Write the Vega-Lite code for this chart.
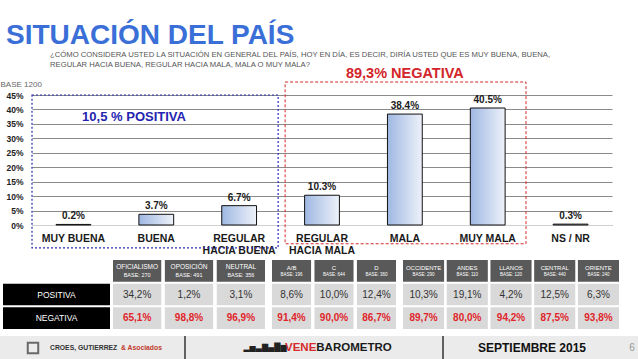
{
  "$schema": "https://vega.github.io/schema/vega-lite/v6.json",
  "padding": {"left": 0, "top": 22, "right": 0, "bottom": 0},
  "background": "white",
  "config": {"view": {"stroke": null}, "font": "Liberation Sans", "text": {"font": "Liberation Sans"}},
  "title": {"text": "SITUACIÓN DEL PAÍS", "anchor": "start", "font": "Liberation Sans", "fontSize": 28, "fontWeight": "bold", "color": "#3a6fd8", "dx": 6, "offset": 0.5},
  "datasets": {
    "encuesta": [
      {"categoria": "MUY BUENA", "pct": 0.002},
      {"categoria": "BUENA", "pct": 0.037},
      {"categoria": "REGULAR HACIA BUENA", "pct": 0.067},
      {"categoria": "REGULAR HACIA MALA", "pct": 0.103},
      {"categoria": "MALA", "pct": 0.384},
      {"categoria": "MUY MALA", "pct": 0.405},
      {"categoria": "NS / NR", "pct": 0.003}
    ],
    "tabla": [
      {"grupo": "politica", "columna": "OFICIALISMO", "base": "BASE: 270", "POSITIVA": 0.342, "NEGATIVA": 0.651},
      {"grupo": "politica", "columna": "OPOSICIÓN", "base": "BASE: 491", "POSITIVA": 0.012, "NEGATIVA": 0.988},
      {"grupo": "politica", "columna": "NEUTRAL", "base": "BASE: 356", "POSITIVA": 0.031, "NEGATIVA": 0.969},
      {"grupo": "estrato", "columna": "A/B", "base": "BASE: 196", "POSITIVA": 0.086, "NEGATIVA": 0.914},
      {"grupo": "estrato", "columna": "C", "base": "BASE: 644", "POSITIVA": 0.100, "NEGATIVA": 0.900},
      {"grupo": "estrato", "columna": "D", "base": "BASE: 360", "POSITIVA": 0.124, "NEGATIVA": 0.867},
      {"grupo": "region", "columna": "OCCIDENTE", "base": "BASE: 290", "POSITIVA": 0.103, "NEGATIVA": 0.897},
      {"grupo": "region", "columna": "ANDES", "base": "BASE: 110", "POSITIVA": 0.191, "NEGATIVA": 0.800},
      {"grupo": "region", "columna": "LLANOS", "base": "BASE: 120", "POSITIVA": 0.042, "NEGATIVA": 0.942},
      {"grupo": "region", "columna": "CENTRAL", "base": "BASE: 440", "POSITIVA": 0.125, "NEGATIVA": 0.875},
      {"grupo": "region", "columna": "ORIENTE", "base": "BASE: 240", "POSITIVA": 0.063, "NEGATIVA": 0.938}
    ]
  },
  "spacing": 4,
  "vconcat": [
    {
      "width": 580,
      "height": 130,
      "title": {
        "text": ["¿CÓMO CONSIDERA USTED LA SITUACIÓN EN GENERAL DEL PAÍS, HOY EN DÍA, ES DECIR, DIRÍA USTED QUE ES MUY BUENA, BUENA,", "REGULAR HACIA BUENA, REGULAR HACIA MALA, MALA O MUY MALA?"],
        "anchor": "start", "frame": "group", "dx": 18, "fontSize": 7.7, "fontWeight": "normal", "color": "#555555", "lineHeight": 10.5, "offset": -2.5
      },
      "data": {"name": "encuesta"},
      "layer": [
        {
          "mark": {"type": "bar", "color": {"gradient": "linear", "x1": 0, "x2": 1, "y1": 0, "y2": 0, "stops": [{"offset": 0, "color": "#9fb8e2"}, {"offset": 1, "color": "#eef2fa"}]}, "stroke": "#111111", "strokeWidth": 1},
          "encoding": {
            "x": {
              "field": "categoria", "type": "nominal", "sort": null,
              "scale": {"domain": ["MUY BUENA", "BUENA", "REGULAR HACIA BUENA", "REGULAR HACIA MALA", "MALA", "MUY MALA", "NS / NR"], "paddingInner": 0.58, "paddingOuter": 0.29},
              "axis": {"title": null, "labelAngle": 0, "labelFontWeight": "bold", "labelFontSize": 10.5, "labelColor": "#1a1a1a", "labelPadding": 8, "ticks": false, "domainColor": "#d0d0d0", "labelOverlap": false, "labelLimit": 0, "labelLineHeight": 12,
                "labelExpr": "indexof(datum.label, 'HACIA') > 0 ? ['REGULAR', replace(datum.label, 'REGULAR ', '')] : datum.label"}
            },
            "y": {
              "field": "pct", "type": "quantitative",
              "scale": {"domain": [0, 0.45], "nice": false},
              "axis": {"format": ".0%", "values": [0, 0.05, 0.1, 0.15, 0.2, 0.25, 0.3, 0.35, 0.4, 0.45], "tickCount": 10, "title": "BASE 1200", "titleAngle": 0, "titleAlign": "left", "titleBaseline": "alphabetic", "titleX": -32, "titleY": -9, "titleFontSize": 8, "titleFontWeight": "normal", "titleColor": "#666666", "labelFontWeight": "bold", "labelFontSize": 8.5, "labelColor": "#222222", "labelPadding": 9, "labelOverlap": false, "ticks": false, "domain": false, "grid": true, "gridColor": "#8a8a8a"}
            }
          }
        },
        {
          "mark": {"type": "text", "baseline": "bottom", "dy": -3, "fontSize": 10, "fontWeight": "bold", "color": "#1a1a1a"},
          "encoding": {
            "x": {"field": "categoria", "type": "nominal", "sort": null},
            "y": {"field": "pct", "type": "quantitative", "axis": {"format": ".0%", "values": [0, 0.05, 0.1, 0.15, 0.2, 0.25, 0.3, 0.35, 0.4, 0.45], "tickCount": 10, "title": "BASE 1200", "titleAngle": 0, "titleAlign": "left", "titleBaseline": "alphabetic", "titleX": -32, "titleY": -9, "titleFontSize": 8, "titleFontWeight": "normal", "titleColor": "#666666", "labelFontWeight": "bold", "labelFontSize": 8.5, "labelColor": "#222222", "labelPadding": 9, "labelOverlap": false, "ticks": false, "domain": false, "grid": true, "gridColor": "#8a8a8a"}},
            "text": {"field": "pct", "type": "quantitative", "format": ".1%"}
          }
        },
        {
          "data": {"values": [{}]},
          "mark": {"type": "rect", "fill": "#ffffff", "fillOpacity": 0, "stroke": "#2b2bb5", "strokeWidth": 1.2, "strokeDash": [2, 2]},
          "encoding": {
            "x": {"datum": "MUY BUENA", "type": "nominal", "bandPosition": -0.69},
            "x2": {"datum": "REGULAR HACIA BUENA", "bandPosition": 1.62},
            "y": {"datum": 0.45, "type": "quantitative"},
            "y2": {"datum": -0.079}
          }
        },
        {
          "data": {"values": [{}]},
          "mark": {"type": "rect", "fill": "#ffffff", "fillOpacity": 0, "stroke": "#d42a2a", "strokeWidth": 1, "strokeDash": [3, 2]},
          "encoding": {
            "x": {"datum": "REGULAR HACIA MALA", "type": "nominal", "bandPosition": -0.56},
            "x2": {"datum": "MUY MALA", "bandPosition": 1.6},
            "y": {"datum": 0.495, "type": "quantitative"},
            "y2": {"datum": -0.065}
          }
        },
        {
          "data": {"values": [{}]},
          "mark": {"type": "text", "text": "10,5 % POSITIVA", "fontSize": 13, "fontWeight": "bold", "color": "#2424b0", "baseline": "alphabetic"},
          "encoding": {
            "x": {"datum": "BUENA", "type": "nominal", "bandPosition": -0.14},
            "y": {"datum": 0.361, "type": "quantitative"}
          }
        },
        {
          "data": {"values": [{}]},
          "mark": {"type": "text", "text": "89,3% NEGATIVA", "fontSize": 14.5, "fontWeight": "bold", "color": "#d3252a", "baseline": "alphabetic"},
          "encoding": {
            "x": {"datum": "MALA", "type": "nominal", "bandPosition": 0.5},
            "y": {"datum": 0.508, "type": "quantitative"}
          }
        }
      ]
    },
    {
      "spacing": 6,
      "vconcat": [
        {
          "spacing": 7,
          "hconcat": [
            {
              "spacing": 3,
              "hconcat": [
                {
                  "width": 78, "height": 69,
                  "data": {"values": [{"fila": "POSITIVA"}, {"fila": "NEGATIVA"}]},
                  "encoding": {"y": {"field": "fila", "type": "nominal", "scale": {"domain": ["cabecera", "POSITIVA", "NEGATIVA"], "paddingInner": 0.08, "paddingOuter": 0}, "axis": null}},
                  "layer": [
                    {"mark": {"type": "rect", "color": "#000000", "xOffset": -29},
                     "encoding": {"x": {"datum": "etiqueta", "type": "nominal", "bandPosition": 0, "scale": {"domain": ["etiqueta"], "paddingInner": 0, "paddingOuter": 0}, "axis": null}, "x2": {"datum": "etiqueta", "bandPosition": 1}}},
                    {"mark": {"type": "text", "color": "#ffffff", "fontSize": 8.5, "dx": -14.5},
                     "encoding": {"x": {"datum": "etiqueta", "type": "nominal"}, "text": {"field": "fila"}}}
                  ]
                },
                {
                  "width": 152, "height": 69,
                  "data": {"name": "tabla"},
                  "transform": [{"filter": "datum.grupo === 'politica'"}],
                  "encoding": {"x": {"field": "columna", "type": "nominal", "sort": null, "axis": null, "scale": {"paddingInner": 0.07, "paddingOuter": 0}}},
                  "layer": [
                    {"mark": {"type": "rect", "color": "#595959"}, "encoding": {"y": {"datum": "cabecera", "type": "nominal", "scale": {"domain": ["cabecera", "POSITIVA", "NEGATIVA"], "paddingInner": 0.08, "paddingOuter": 0}, "axis": null}}},
                    {"mark": {"type": "text", "color": "#ffffff", "fontSize": 6.5, "dy": -3.5}, "encoding": {"y": {"datum": "cabecera", "type": "nominal"}, "text": {"field": "columna"}}},
                    {"mark": {"type": "text", "color": "#ffffff", "fontSize": 5.5, "dy": 4.5}, "encoding": {"y": {"datum": "cabecera", "type": "nominal"}, "text": {"field": "base"}}},
                    {"transform": [{"fold": ["POSITIVA", "NEGATIVA"], "as": ["fila", "valor"]}], "mark": {"type": "rect", "color": "#d9d9d9"}, "encoding": {"y": {"field": "fila", "type": "nominal"}}},
                    {"transform": [{"fold": ["POSITIVA", "NEGATIVA"], "as": ["fila", "valor"]}, {"filter": "datum.fila === 'POSITIVA'"}], "mark": {"type": "text", "fontSize": 10, "color": "#333333", "text": {"expr": "replace(format(datum.valor, '.1%'), '.', ',')"}}, "encoding": {"y": {"field": "fila", "type": "nominal"}}},
                    {"transform": [{"fold": ["POSITIVA", "NEGATIVA"], "as": ["fila", "valor"]}, {"filter": "datum.fila === 'NEGATIVA'"}], "mark": {"type": "text", "fontSize": 10, "fontWeight": "bold", "color": "#e0262b", "text": {"expr": "replace(format(datum.valor, '.1%'), '.', ',')"}}, "encoding": {"y": {"field": "fila", "type": "nominal"}}}
                  ]
                }
              ]
            },
            {
              "width": 124, "height": 69,
              "data": {"name": "tabla"},
              "transform": [{"filter": "datum.grupo === 'estrato'"}],
              "encoding": {"x": {"field": "columna", "type": "nominal", "sort": null, "axis": null, "scale": {"paddingInner": 0.08, "paddingOuter": 0}}},
              "layer": [
                {"mark": {"type": "rect", "color": "#595959"}, "encoding": {"y": {"datum": "cabecera", "type": "nominal", "scale": {"domain": ["cabecera", "POSITIVA", "NEGATIVA"], "paddingInner": 0.08, "paddingOuter": 0}, "axis": null}}},
                {"mark": {"type": "text", "color": "#ffffff", "fontSize": 6, "dy": -3}, "encoding": {"y": {"datum": "cabecera", "type": "nominal"}, "text": {"field": "columna"}}},
                {"mark": {"type": "text", "color": "#ffffff", "fontSize": 4.5, "dy": 4}, "encoding": {"y": {"datum": "cabecera", "type": "nominal"}, "text": {"field": "base"}}},
                {"transform": [{"fold": ["POSITIVA", "NEGATIVA"], "as": ["fila", "valor"]}], "mark": {"type": "rect", "color": "#d9d9d9"}, "encoding": {"y": {"field": "fila", "type": "nominal"}}},
                {"transform": [{"fold": ["POSITIVA", "NEGATIVA"], "as": ["fila", "valor"]}, {"filter": "datum.fila === 'POSITIVA'"}], "mark": {"type": "text", "fontSize": 10, "color": "#333333", "text": {"expr": "replace(format(datum.valor, '.1%'), '.', ',')"}}, "encoding": {"y": {"field": "fila", "type": "nominal"}}},
                {"transform": [{"fold": ["POSITIVA", "NEGATIVA"], "as": ["fila", "valor"]}, {"filter": "datum.fila === 'NEGATIVA'"}], "mark": {"type": "text", "fontSize": 10, "fontWeight": "bold", "color": "#e0262b", "text": {"expr": "replace(format(datum.valor, '.1%'), '.', ',')"}}, "encoding": {"y": {"field": "fila", "type": "nominal"}}}
              ]
            },
            {
              "width": 216, "height": 69,
              "data": {"name": "tabla"},
              "transform": [{"filter": "datum.grupo === 'region'"}],
              "encoding": {"x": {"field": "columna", "type": "nominal", "sort": null, "axis": null, "scale": {"paddingInner": 0.06, "paddingOuter": 0}}},
              "layer": [
                {"mark": {"type": "rect", "color": "#595959"}, "encoding": {"y": {"datum": "cabecera", "type": "nominal", "scale": {"domain": ["cabecera", "POSITIVA", "NEGATIVA"], "paddingInner": 0.08, "paddingOuter": 0}, "axis": null}}},
                {"mark": {"type": "text", "color": "#ffffff", "fontSize": 6, "dy": -3}, "encoding": {"y": {"datum": "cabecera", "type": "nominal"}, "text": {"field": "columna"}}},
                {"mark": {"type": "text", "color": "#ffffff", "fontSize": 4.5, "dy": 4}, "encoding": {"y": {"datum": "cabecera", "type": "nominal"}, "text": {"field": "base"}}},
                {"transform": [{"fold": ["POSITIVA", "NEGATIVA"], "as": ["fila", "valor"]}], "mark": {"type": "rect", "color": "#d9d9d9"}, "encoding": {"y": {"field": "fila", "type": "nominal"}}},
                {"transform": [{"fold": ["POSITIVA", "NEGATIVA"], "as": ["fila", "valor"]}, {"filter": "datum.fila === 'POSITIVA'"}], "mark": {"type": "text", "fontSize": 10, "color": "#333333", "text": {"expr": "replace(format(datum.valor, '.1%'), '.', ',')"}}, "encoding": {"y": {"field": "fila", "type": "nominal"}}},
                {"transform": [{"fold": ["POSITIVA", "NEGATIVA"], "as": ["fila", "valor"]}, {"filter": "datum.fila === 'NEGATIVA'"}], "mark": {"type": "text", "fontSize": 10, "fontWeight": "bold", "color": "#e0262b", "text": {"expr": "replace(format(datum.valor, '.1%'), '.', ',')"}}, "encoding": {"y": {"field": "fila", "type": "nominal"}}}
              ]
            }
          ]
        },
        {
          "width": 606, "height": 24,
          "data": {"values": [{}]},
          "layer": [
            {"mark": {"type": "rect", "color": "#ebebeb", "xOffset": -82.5, "x2Offset": 50.5},
             "encoding": {"x": {"datum": "CROES", "type": "nominal", "scale": {"type": "point", "domain": ["CROES", "sep1", "VENE", "sep2", "fecha", "pag"], "padding": 0.5}, "axis": null}, "x2": {"datum": "pag"}}},
            {"mark": {"type": "point", "shape": "square", "filled": false, "size": 110, "stroke": "#333333", "strokeWidth": 2, "xOffset": -49.5},
             "encoding": {"x": {"datum": "CROES", "type": "nominal"}}},
            {"mark": {"type": "text", "text": "CROES, GUTIERREZ", "align": "left", "dx": -32.5, "fontSize": 6.8, "fontWeight": "bold", "color": "#333333"},
             "encoding": {"x": {"datum": "CROES", "type": "nominal"}}},
            {"mark": {"type": "text", "text": "& Asociados", "align": "left", "dx": 38.5, "fontSize": 6.8, "fontWeight": "bold", "color": "#c0392b"},
             "encoding": {"x": {"datum": "CROES", "type": "nominal"}}},
            {"mark": {"type": "rule", "stroke": "#333333", "strokeWidth": 1.5, "xOffset": 1.5},
             "encoding": {"x": {"datum": "sep1", "type": "nominal"}}},
            {"mark": {"type": "text", "text": "▂▅▃▇▄█▆", "font": "DejaVu Sans", "align": "center", "dx": -19.5, "fontSize": 8, "color": "#222222"},
             "encoding": {"x": {"datum": "VENE", "type": "nominal"}}},
            {"mark": {"type": "text", "text": "VENE", "align": "left", "dx": 0.5, "fontSize": 11.5, "fontWeight": "bold", "color": "#d42a2a"},
             "encoding": {"x": {"datum": "VENE", "type": "nominal"}}},
            {"mark": {"type": "text", "text": "BAROMETRO", "align": "left", "dx": 31.8, "fontSize": 11.5, "fontWeight": "bold", "color": "#1a1a1a"},
             "encoding": {"x": {"datum": "VENE", "type": "nominal"}}},
            {"mark": {"type": "rule", "stroke": "#333333", "strokeWidth": 1.5, "xOffset": 57.5},
             "encoding": {"x": {"datum": "sep2", "type": "nominal"}}},
            {"mark": {"type": "text", "text": "SEPTIEMBRE 2015", "align": "left", "dx": -8.5, "fontSize": 12, "fontWeight": "bold", "color": "#111111"},
             "encoding": {"x": {"datum": "fecha", "type": "nominal"}}},
            {"mark": {"type": "text", "text": "6", "align": "center", "dx": 44.5, "fontSize": 10, "color": "#999999"},
             "encoding": {"x": {"datum": "pag", "type": "nominal"}}}
          ]
        }
      ]
    }
  ]
}
